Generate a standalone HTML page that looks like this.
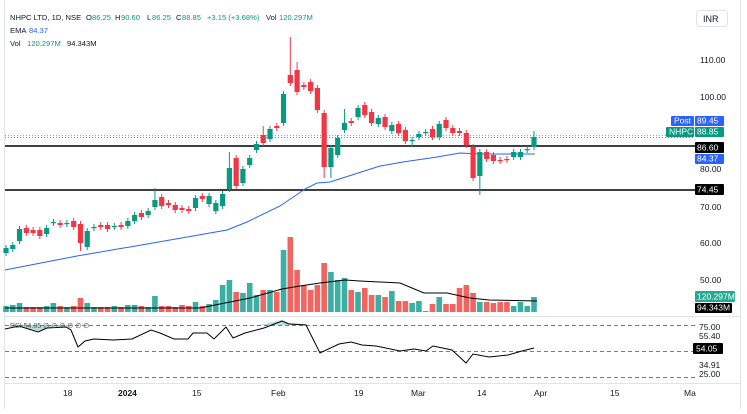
<!DOCTYPE html>
<html><head><meta charset="utf-8"><style>
html,body{margin:0;padding:0;background:#fff;}
body{width:747px;height:409px;overflow:hidden;font-family:"Liberation Sans",sans-serif;}
svg text{font-family:"Liberation Sans",sans-serif;}
</style></head><body>
<svg id="s" width="747" height="409" xmlns="http://www.w3.org/2000/svg">
<rect x="0" y="0" width="747" height="409" fill="#fff"/>
<line x1="4.5" y1="0" x2="4.5" y2="409" stroke="#e0e3eb"/>
<line x1="740.5" y1="0" x2="740.5" y2="409" stroke="#e0e3eb"/>
<line x1="4" y1="316.5" x2="741" y2="316.5" stroke="#e0e3eb"/>
<line x1="4" y1="383.5" x2="741" y2="383.5" stroke="#e0e3eb"/>
<rect x="696.5" y="10.5" width="31" height="16" rx="3" fill="#fff" stroke="#e0e3eb"/>
<text x="703" y="22" font-size="9" fill="#131722">INR</text>
<g id="g"></g>
</svg>
<script>
const NS="http://www.w3.org/2000/svg",g=document.getElementById('g');
function el(t,a,txt){const e=document.createElementNS(NS,t);for(const k in a)e.setAttribute(k,a[k]);if(txt!==undefined)e.textContent=txt;g.appendChild(e);return e;}
const G="#089981",R="#f23645";
el('line',{x1:5,y1:135.5,x2:695,y2:135.5,stroke:"#2962ff","stroke-dasharray":"1,2","stroke-opacity":0.6});
el('line',{x1:5,y1:137.5,x2:695,y2:137.5,stroke:G,"stroke-dasharray":"1,2","stroke-opacity":0.8});
el('line',{x1:5,y1:146,x2:695,y2:146,stroke:"#000","stroke-width":1.5});
el('line',{x1:5,y1:190,x2:695,y2:190,stroke:"#000","stroke-width":1.5});
const C=[["g",248,253],["g",245,249],["g",229,241],["r",228,233],["r",230,233],["r",230,236],["g",228,234],["g",222,223],["r",223,225],["g",223,224],["r",221,227],["r",224,243,0,251],["g",231,247],["g",227,228],["r",225,227],["r",225,229],["g",226,227],["r",225,227],["g",221,226],["g",215,221],["r",213,217],["g",211,215],["g",200,207,188],["r",197,206],["r",203,205],["r",205,210],["r",208,210],["r",209,211],["g",198,208],["r",196,199],["g",196,204],["g",203,211],["g",194,206],["g",168,189,152],["r",158,186],["g",169,183],["g",158,165],["g",144,150],["r",135,143,126],["g",129,139],["r",126,128],["g",94,123],["r",75,83,37],["r",70,92,62],["r",85,87],["r",82,91],["r",88,110],["r",113,167,0,178],["g",148,167,0,178],["g",138,155],["g",123,130,109],["r",121,123],["g",108,117],["r",105,115],["r",112,123],["g",118,124],["r",117,127],["g",125,131],["r",124,133],["r",130,141],["g",140,141,0,147],["g",134,137],["g",132,133],["r",129,137],["g",124,137],["r",120,128],["r",128,133],["r",131,133],["r",133,145],["r",147,178],["g",152,176,0,195],["r",152,159],["r",155,161],["r",160,161],["r",159,160],["g",152,157],["g",152,157],["g",149,150],["g",137,147,131]];
const V=[306,305,303,307,307,307,306,303,306,307,306,298,303,307,307,307,306,307,305,305,306,307,296,306,306,307,305,306,302,306,304,300,285,280,292,293,283,295,290,290,292,250,237,270,285,290,285,263,272,280,278,290,292,288,295,295,297,291,301,301,303,301,311,304,297,304,304,288,285,293,302,302,303,302,302,306,302,306,297];
const sp=(534-6)/(C.length-1);
C.forEach((c,i)=>{const x=6+i*sp,col=c[0]=="g"?"#26a69a":"#ef5350";
 el('rect',{x:x-2.8,y:V[i],width:5.6,height:312-V[i],fill:col,"fill-opacity":0.9});});
el('polyline',{points:"5,308 200,308 215,305 250,298 282,289 300,286 320,283 345,280 360,281 400,283 424,293 447,293 470,298 489,300 537,301",fill:"none",stroke:"#000","stroke-width":1});
el('polyline',{points:"5,270 10,269 77,256 153,243 227,230 247,222 280,206 305,189 317,183 330,182 380,166 403,162 437,157 460,153 480,154 535,154",fill:"none",stroke:"#2962ff","stroke-width":1});
C.forEach((c,i)=>{const x=6+i*sp,col=c[0]=="g"?G:R;
 const hi=c[3]||c[1]-3,lo=c[4]||c[2]+3;
 el('line',{x1:x,y1:hi,x2:x,y2:lo,stroke:col,"stroke-width":1});
 el('rect',{x:x-2.6,y:c[1],width:5.2,height:Math.max(1.2,c[2]-c[1]),fill:col});});
el('line',{x1:5,y1:325.5,x2:695,y2:325.5,stroke:"#787b86","stroke-dasharray":"4,3"});
el('line',{x1:5,y1:351.5,x2:695,y2:351.5,stroke:"#787b86","stroke-dasharray":"4,3"});
el('line',{x1:5,y1:377.5,x2:695,y2:377.5,stroke:"#787b86","stroke-dasharray":"4,3"});
el('path',{d:"M5,325 L19,325 L19,326 L38,331 L47,328 L66,327 L71,325 Z",fill:"#089981","fill-opacity":0.3});
el('path',{d:"M260,325 L264,324 L282,320 L289,323 L306,324 L308,325 Z",fill:"#089981","fill-opacity":0.3});
const rp=[[5,329],[19,326],[38,332],[47,328],[66,327],[71,330],[78,347],[85,341],[94,339],[113,340],[132,339],[151,330],[160,333],[174,339],[188,339],[193,333],[207,333],[214,339],[226,327],[233,338],[245,333],[264,328],[282,321],[289,324],[306,325],[320,353],[339,344],[351,342],[362,345],[376,346],[400,351],[414,349],[426,351],[433,346],[452,350],[466,363],[473,354],[489,357],[508,355],[522,351],[534,348]];
el('polyline',{points:rp.map(p=>p.join(",")).join(" "),fill:"none",stroke:"#000","stroke-width":1});
const t=(x,y,s,col,sz,w)=>el('text',{x:x,y:y,"font-size":sz||8.5,fill:col||"#131722","font-weight":w||"normal"},s);
const L=7.6;
t(10,20,"NHPC LTD, 1D, NSE","#131722",L);t(86,20,"O","#131722",L);t(92,20,"86.25",G,L);
t(115,20,"H","#131722",L);t(121,20,"90.60",G,L);t(147,20,"L","#131722",L);t(152,20,"86.25",G,L);t(176,20,"C","#131722",L);t(182,20,"88.85",G,L);t(207,20,"+3.15 (+3.68%)",G,L);t(266,20,"Vol","#131722",L);t(279,20,"120.297M",G,L);
t(10,33,"EMA","#131722",L);t(29,33,"84.37","#2962ff",L);
t(10,46,"Vol","#131722",L);t(27,46,"120.297M",G,L);t(67,46,"94.343M","#131722",L);
t(10,328,"RSI 54.05 ∅ ∅ ∅ ∅ ∅ ∅","#555",7);
[["110.00",63],["100.00",100],["80.00",172],["70.00",210],["60.00",246],["50.00",283]].forEach(a=>t(700,a[1],a[0],"#131722",8.5));
const box=(x,y,w,h,fill,s,tx)=>{el('rect',{x:x,y:y,width:w,height:h,fill:fill,rx:1});t(tx||x+3,y+h-2.5,s,"#fff",8.5);};
box(671,116,23,10,"#2962ff","Post");box(695,116,29,10,"#2962ff","89.45",697);
box(666,127,28,10,G,"NHPC");box(695,127,29,10,G,"88.85",697);
box(695,142,29,11,"#000","86.60",697);box(695,154,29,10,"#2962ff","84.37",697);
box(695,184,29,11,"#000","74.45",697);
box(695,291,40,11,"#22ab94","120.297M",697);box(695,303,37,10,"#000","94.343M",697);
t(699,330,"75.00","#131722",8.5);t(699,339,"55.40","#131722",8.5);
box(693,343,30,11,"#000","54.05",696);
t(699,368,"34.91","#131722",8.5);t(699,377,"25.00","#131722",8.5);
[["18",63],["2024",118,"bold"],["15",192],["Feb",271],["19",354],["Mar",411],["14",477],["Apr",534],["15",610],["Ma",684]].forEach(a=>t(a[1],396,a[0],"#131722",8.5,a[2]));
</script>
</body></html>
